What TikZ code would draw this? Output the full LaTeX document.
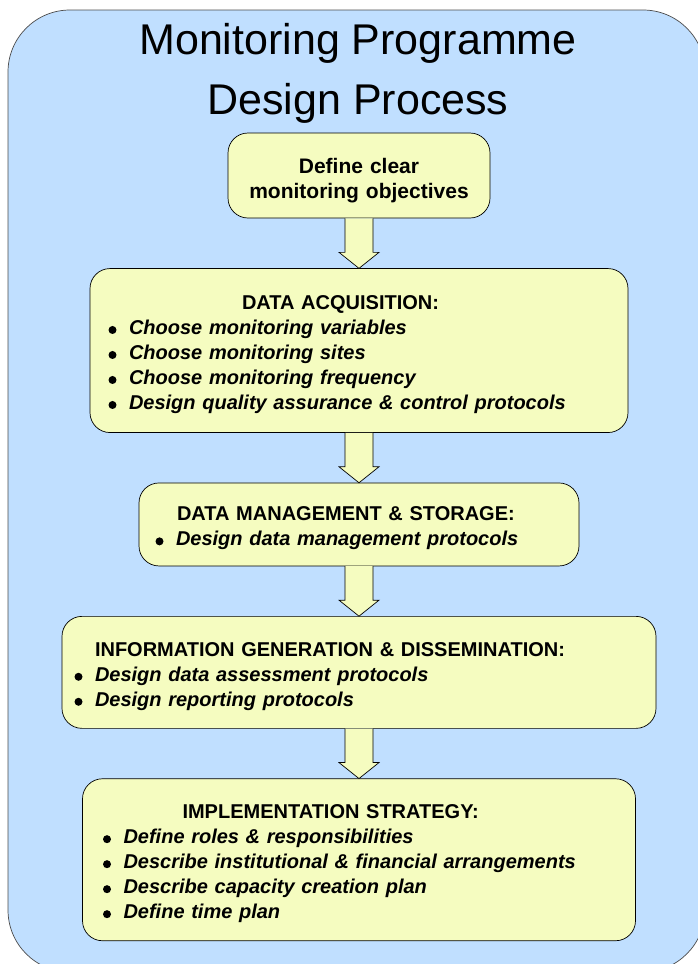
\documentclass[tikz,border=0pt]{standalone}
\usepackage{fontspec}
\setmainfont{Liberation Sans}
\usetikzlibrary{positioning}
\usetikzlibrary{calc}
\definecolor{panelblue}{RGB}{192,223,255}
\definecolor{stepyellow}{RGB}{245,252,192}
\newcommand{\boxhead}[2]{\rule{0pt}{22pt}\hspace*{#1}\textbf{#2}\par}
\newcommand{\boxdot}{\tikz[baseline=-4.5pt]\fill[black] (0pt,0pt) circle (4pt);}
\newcommand{\boxitem}[1]{\makebox[21pt][l]{\hspace*{0.5pt}\boxdot}\textbf{\textit{#1}}\par}

\begin{document}
\begin{tikzpicture}[
            x = 1pt, y = 1pt, % work in pixels
            node distance = 50pt, % gap between steps
            line width = 0.7pt
        ]

        \tikzstyle{stepbox}=[
            draw = black,
            fill = stepyellow,
            rounded corners = 20pt,
            align = left,
            inner ysep = 0pt,
            font = \fontsize{20pt}{25pt}\selectfont
        ]
        \tikzstyle{blockarrow}=[
            draw = black,
            fill = stepyellow
        ]

        \useasboundingbox (0,0) rectangle (697,-964);

        % background panel
        \draw[fill = panelblue, draw = black!70, rounded corners = 62pt] (8,-10) rectangle (705,-972);

        % title
        \node[anchor = north, inner sep = 0pt, align = center, font = \fontsize{43pt}{60pt}\selectfont] (title) at (358,-23) {Monitoring Programme\\Design Process};

        % steps
        \node[stepbox, align = center, inner xsep = 10pt, text width = 242pt, minimum height = 85pt,
              font = \bfseries\fontsize{21pt}{25pt}\selectfont] (obj) at (359,-175.5) {\rule{0pt}{25pt}Define clear\\monitoring objectives};
        \node[stepbox, inner xsep = 18pt, text width = 502pt, minimum height = 164pt] (acq) [below = of obj] {%
            \boxhead{134pt}{DATA ACQUISITION:}%
            \boxitem{Choose monitoring variables}%
            \boxitem{Choose monitoring sites}%
            \boxitem{Choose monitoring frequency}%
            \boxitem{Design quality assurance \& control protocols}};
        \node[stepbox, inner xsep = 16pt, text width = 408pt, minimum height = 83pt] (mgmt) [below = of acq] {%
            \boxhead{22pt}{DATA MANAGEMENT \& STORAGE:}%
            \boxitem{Design data management protocols}};
        \node[stepbox, inner xsep = 12pt, text width = 570pt, minimum height = 112pt] (info) [below = of mgmt] {%
            \boxhead{21pt}{INFORMATION GENERATION \& DISSEMINATION:}%
            \boxitem{Design data assessment protocols}%
            \boxitem{Design reporting protocols}};
        \node[stepbox, inner xsep = 20pt, text width = 513pt, minimum height = 162pt] (impl) [below = of info] {%
            \boxhead{80pt}{IMPLEMENTATION STRATEGY:}%
            \boxitem{Define roles \& responsibilities}%
            \boxitem{Describe institutional \& financial arrangements}%
            \boxitem{Describe capacity creation plan}%
            \boxitem{Define time plan}};

        % block arrows between steps
        \foreach \from/\to in {obj/acq, acq/mgmt, mgmt/info, info/impl}
            \filldraw[blockarrow] ($(\from.south)+(-14,0)$) -- ($(\to.north)+(-14,16)$) -- ($(\to.north)+(-20,16)$)
                -- (\to.north) -- ($(\to.north)+(20,16)$) -- ($(\to.north)+(14,16)$) -- ($(\from.south)+(14,0)$);

\end{tikzpicture}
\end{document}
